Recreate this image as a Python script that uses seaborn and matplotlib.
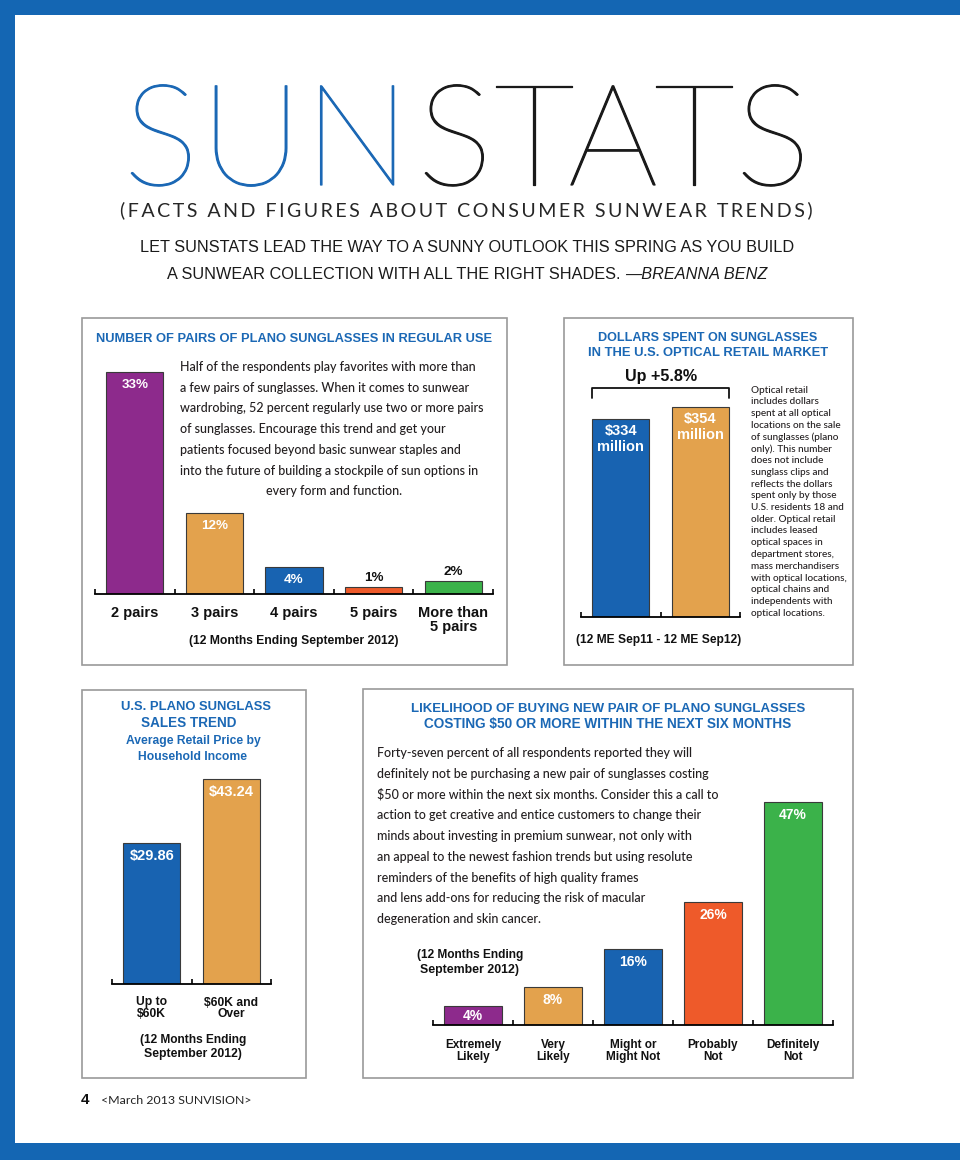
import numpy as np
import pandas as pd
import matplotlib
matplotlib.use('Agg')
import matplotlib.pyplot as plt
import matplotlib.patheffects as pe
import seaborn as sns
from matplotlib.patches import Rectangle
from matplotlib.lines import Line2D

# ---------------- data ----------------
pairs_cats = ['2 pairs', '3 pairs', '4 pairs', '5 pairs', 'More than\n5 pairs']
pairs_vals = [33, 12, 4, 1, 2]

dollars_cats = ['12 ME Sep11', '12 ME Sep12']
dollars_vals = [334, 354]

price_cats = ['Up to\n$60K', '$60K and\nOver']
price_vals = [29.86, 43.24]

likely_cats = ['Extremely\nLikely', 'Very\nLikely', 'Might or\nMight Not',
               'Probably\nNot', 'Definitely\nNot']
likely_vals = [4, 8, 16, 26, 47]

PURPLE = '#8D2A8C'
GOLD = '#E3A24D'
BLUE = '#1863B1'
RED = '#EE5A2A'
GREEN = '#3BB24A'
BAND = '#1466B3'
TBLUE = '#1B68B5'
INK = '#231F20'

pairs_colors = [PURPLE, GOLD, BLUE, RED, GREEN]
dollars_colors = [BLUE, GOLD]
price_colors = [BLUE, GOLD]
likely_colors = [PURPLE, GOLD, BLUE, RED, GREEN]

body1 = ["Half of the respondents play favorites with more than",
         "a few pairs of sunglasses. When it comes to sunwear",
         "wardrobing, 52 percent regularly use two or more pairs",
         "of sunglasses. Encourage this trend and get your",
         "patients focused beyond basic sunwear staples and",
         "into the future of building a stockpile of sun options in"]
body1_last = "every form and function."

body2 = ["Optical retail", "includes dollars", "spent at all optical",
         "locations on the sale", "of sunglasses (plano", "only). This number",
         "does not include", "sunglass clips and", "reflects the dollars",
         "spent only by those", "U.S. residents 18 and", "older. Optical retail",
         "includes leased", "optical spaces in", "department stores,",
         "mass merchandisers", "with optical locations,", "optical chains and",
         "independents with", "optical locations."]

body4 = ["Forty-seven percent of all respondents reported they will",
         "definitely not be purchasing a new pair of sunglasses costing",
         "$50 or more within the next six months. Consider this a call to",
         "action to get creative and entice customers to change their",
         "minds about investing in premium sunwear, not only with",
         "an appeal to the newest fashion trends but using resolute",
         "reminders of the benefits of high quality frames",
         "and lens add-ons for reducing the risk of macular",
         "degeneration and skin cancer."]

# ---------------- setup ----------------
sns.set_theme(style='white')
plt.rcParams['font.family'] = ['Liberation Sans', 'DejaVu Sans']
plt.rcParams['text.parse_math'] = False

W, H = 960, 1160
fig = plt.figure(figsize=(W / 100, H / 100), dpi=100)
fig.patch.set_facecolor('white')
renderer = fig.canvas.get_renderer()

BODY_FONT = ['Lato', 'DejaVu Sans']
BOLD_FONT = ['Liberation Sans', 'DejaVu Sans']
BODY_W = 'medium'


def ftext(x, y, s, width=None, size=10, ha='center', va='center', **kw):
    t = fig.text(x / W, 1 - y / H, s, fontsize=size, ha=ha, va=va, **kw)
    if width:
        w = t.get_window_extent(renderer=renderer).width
        t.set_fontsize(size * width / w)
    return t


def rect_px(x0, y0, x1, y1, **kw):
    r = Rectangle((x0 / W, 1 - y1 / H), (x1 - x0) / W, (y1 - y0) / H,
                  transform=fig.transFigure, **kw)
    fig.add_artist(r)
    return r


# page frame bands
rect_px(0, 0, W, 15, facecolor=BAND, edgecolor='none', zorder=0)
rect_px(0, 0, 15, H, facecolor=BAND, edgecolor='none', zorder=0)
rect_px(0, 1143, W, H, facecolor=BAND, edgecolor='none', zorder=0)

# panel boxes
for (a, b, c, d) in [(82, 318, 507, 665), (564, 318, 853, 665),
                     (82, 690, 306, 1078), (363, 689, 853, 1078)]:
    rect_px(a, b, c, d, facecolor='none', edgecolor='#9A9A9A', lw=1.2, zorder=0.5)

# ---------------- header ----------------
letters = list("SUNSTATS")
letter_x = [161, 251, 357, 455, 534, 613, 694, 773]
for i, (ch, lx) in enumerate(zip(letters, letter_x)):
    col = TBLUE if i < 3 else '#1A1A1A'
    fig.text(lx / W, 1 - 185 / H, ch, fontsize=102, ha='center', va='baseline',
             family=['Lato', 'DejaVu Sans'], fontweight=200, color=col,
             path_effects=[pe.withStroke(linewidth=0.9, foreground=col)])

sub = "(FACTS AND FIGURES ABOUT CONSUMER SUNWEAR TRENDS)"
ftext(466, 210, '\u2009'.join(sub), width=696, size=14,
      family=['Lato', 'DejaVu Sans'], fontweight='normal', color='#262626')

t1 = ftext(467, 248, "LET SUNSTATS LEAD THE WAY TO A SUNNY OUTLOOK THIS SPRING AS YOU BUILD",
           width=648, size=12, family=BOLD_FONT, color='#1A1A1A')
fs_intro = t1.get_fontsize()
pa = fig.text(0, 1 - 275 / H, "A SUNWEAR COLLECTION WITH ALL THE RIGHT SHADES. ",
              fontsize=fs_intro, ha='left', va='center', family=BOLD_FONT, color='#1A1A1A')
pb = fig.text(0, 1 - 275 / H, "\u2014BREANNA BENZ", fontsize=fs_intro, ha='left',
              va='center', family=BOLD_FONT, style='italic', color='#1A1A1A')
wa = pa.get_window_extent(renderer=renderer).width
wb = pb.get_window_extent(renderer=renderer).width
start = 467 - (wa + wb) / 2
pa.set_x(start / W)
pb.set_x((start + wa) / W)


# ---------------- bar panel helper ----------------
def bar_panel(x0, x1, base_y, ppu, ymax, cats, vals, colors, show_ticks=True,
              tick_fs=9, tick_pad=8, width=0.72):
    top_y = base_y - ymax * ppu
    ax = fig.add_axes([x0 / W, 1 - base_y / H, (x1 - x0) / W, (base_y - top_y) / H])
    df = pd.DataFrame({'cat': cats, 'val': vals})
    sns.barplot(data=df, x='cat', y='val', hue='cat', palette=colors, legend=False,
                width=width, edgecolor='#3A3A3A', linewidth=0.8, saturation=1, ax=ax)
    n = len(cats)
    ax.set_ylim(0, ymax)
    ax.set_xlim(-0.5, n - 0.5)
    ax.patch.set_alpha(0)
    for s in ['left', 'top', 'right']:
        ax.spines[s].set_visible(False)
    ax.spines['bottom'].set_color('black')
    ax.spines['bottom'].set_linewidth(1.3)
    ax.set_yticks([])
    ax.set_xlabel('')
    ax.set_ylabel('')
    ax.set_xticks(range(n))
    if show_ticks:
        ax.set_xticklabels(cats, fontweight='bold', fontsize=tick_fs, family=BOLD_FONT,
                           color='#111111')
        for lab in ax.get_xticklabels():
            lab.set_linespacing(0.98)
    else:
        ax.set_xticklabels([])
    ax.tick_params(axis='x', which='major', length=0, pad=tick_pad)
    ax.set_xticks(np.arange(-0.5, n, 1.0), minor=True)
    ax.tick_params(axis='x', which='minor', direction='in', length=3.8, width=1.2,
                   color='black', bottom=True)
    return ax


def value_labels(ax, vals, fmt, ppu, fs, inside_min, big_off=13, ls=1.2):
    for i, v in enumerate(vals):
        hpx = v * ppu
        if v >= inside_min:
            off = -min(big_off, hpx / 2)
            ax.annotate(fmt(v), (i, v), xytext=(0, off * 0.72), textcoords='offset points',
                        ha='center', va='center', color='white', fontweight='bold',
                        fontsize=fs, family=BOLD_FONT, linespacing=ls, annotation_clip=False)
        else:
            ax.annotate(fmt(v), (i, v), xytext=(0, 9 * 0.72), textcoords='offset points',
                        ha='center', va='center', color='#111111', fontweight='bold',
                        fontsize=fs, family=BOLD_FONT, annotation_clip=False)


# ---------------- panel 1 ----------------
ftext(294, 339, "NUMBER OF PAIRS OF PLANO SUNGLASSES IN REGULAR USE", width=397, size=10,
      family=BOLD_FONT, fontweight='bold', color=TBLUE)
tb = ftext(180, 367, body1[0], width=297, size=9, ha='left', family=BODY_FONT,
           fontweight=BODY_W, color=INK)
fs_body = tb.get_fontsize()
for k, line in enumerate(body1[1:], start=1):
    ftext(180, 367 + 20.7 * k, line, size=fs_body, ha='left', family=BODY_FONT,
          fontweight=BODY_W, color=INK)
ftext(334, 367 + 20.7 * 6, body1_last, size=fs_body, family=BODY_FONT,
      fontweight=BODY_W, color=INK)

ppu1 = 6.72
ax1 = bar_panel(95, 493, 594, ppu1, 35, pairs_cats, pairs_vals, pairs_colors,
                tick_fs=10.5, tick_pad=8.5)
value_labels(ax1, pairs_vals, lambda v: f"{v}%", ppu1, 9.7, 4)
ftext(294, 641, "(12 Months Ending September 2012)", width=209, size=9,
      family=BOLD_FONT, fontweight='bold', color='#111111')

# ---------------- panel 2 ----------------
ftext(708, 338, "DOLLARS SPENT ON SUNGLASSES", width=219, size=10,
      family=BOLD_FONT, fontweight='bold', color=TBLUE)
ftext(708, 353, "IN THE U.S. OPTICAL RETAIL MARKET", width=240, size=10,
      family=BOLD_FONT, fontweight='bold', color=TBLUE)
ppu2 = 0.593
ax2 = bar_panel(581, 740, 617, ppu2, 400, dollars_cats, dollars_vals, dollars_colors,
                show_ticks=False)
value_labels(ax2, dollars_vals, lambda v: f"${v}\nmillion", ppu2, 10.5, 50, big_off=20,
             ls=1.25)
# bracket over both bars
bl, br = -0.36, 1 + 0.36
by = max(dollars_vals) * 1.09
ax2.add_line(Line2D([bl, bl, br, br], [by - 17, by, by, by - 17], color='#111111', lw=1.3,
                    clip_on=False))
ftext(661, 377, "Up +5.8%", width=72, size=11, family=BOLD_FONT, fontweight='bold',
      color='#111111')
tr = ftext(751, 389, "with optical locations,", width=97, size=7, ha='left',
           family=BODY_FONT, fontweight=BODY_W, color=INK)
fs_side = tr.get_fontsize()
tr.remove()
for k, line in enumerate(body2):
    ftext(751, 390 + 11.75 * k, line, size=fs_side, ha='left', family=BODY_FONT,
          fontweight=BODY_W, color=INK)
ftext(659, 640, "(12 ME Sep11 - 12 ME Sep12)", width=166, size=9,
      family=BOLD_FONT, fontweight='bold', color='#111111')

# ---------------- panel 3 ----------------
ftext(196, 707, "U.S. PLANO SUNGLASS", width=150, size=10,
      family=BOLD_FONT, fontweight='bold', color=TBLUE)
ftext(189, 723, "SALES TREND", width=95, size=10,
      family=BOLD_FONT, fontweight='bold', color=TBLUE)
ftext(193, 741, "Average Retail Price by", width=134, size=9,
      family=BOLD_FONT, fontweight='bold', color=TBLUE)
ftext(193, 757, "Household Income", width=109, size=9,
      family=BOLD_FONT, fontweight='bold', color=TBLUE)
ppu3 = 4.73
ax3 = bar_panel(112, 271, 984, ppu3, 46, price_cats, price_vals, price_colors,
                tick_fs=8.7, tick_pad=9)
value_labels(ax3, price_vals, lambda v: f"${v:.2f}", ppu3, 10.5, 5)
ftext(193, 1040, "(12 Months Ending", width=106, size=9,
      family=BOLD_FONT, fontweight='bold', color='#111111')
ftext(193, 1054, "September 2012)", width=98, size=9,
      family=BOLD_FONT, fontweight='bold', color='#111111')

# ---------------- panel 4 ----------------
ftext(608, 709, "LIKELIHOOD OF BUYING NEW PAIR OF PLANO SUNGLASSES", width=393, size=10,
      family=BOLD_FONT, fontweight='bold', color=TBLUE)
ftext(608, 724, "COSTING $50 OR MORE WITHIN THE NEXT SIX MONTHS", width=368, size=10,
      family=BOLD_FONT, fontweight='bold', color=TBLUE)
for k, line in enumerate(body4):
    ftext(377, 753 + 20.75 * k, line, size=fs_body, ha='left', family=BODY_FONT,
          fontweight=BODY_W, color=INK)
ftext(470, 955, "(12 Months Ending", width=107, size=9,
      family=BOLD_FONT, fontweight='bold', color='#111111')
ftext(470, 970, "September 2012)", width=99, size=9,
      family=BOLD_FONT, fontweight='bold', color='#111111')
ppu4 = 4.74
ax4 = bar_panel(433, 833, 1025, ppu4, 50, likely_cats, likely_vals, likely_colors,
                tick_fs=8.5, tick_pad=10)
value_labels(ax4, likely_vals, lambda v: f"{v}%", ppu4, 10, 4)

# ---------------- footer ----------------
ftext(81, 1100, "4", size=11, ha='left', family=BOLD_FONT, fontweight='bold', color='#111111')
ftext(101, 1100, "<March 2013 SUNVISION>", width=152, size=8, ha='left',
      family=['Lato', 'DejaVu Sans'], color='#222222')

fig.savefig('out.png', dpi=100, facecolor='white')
